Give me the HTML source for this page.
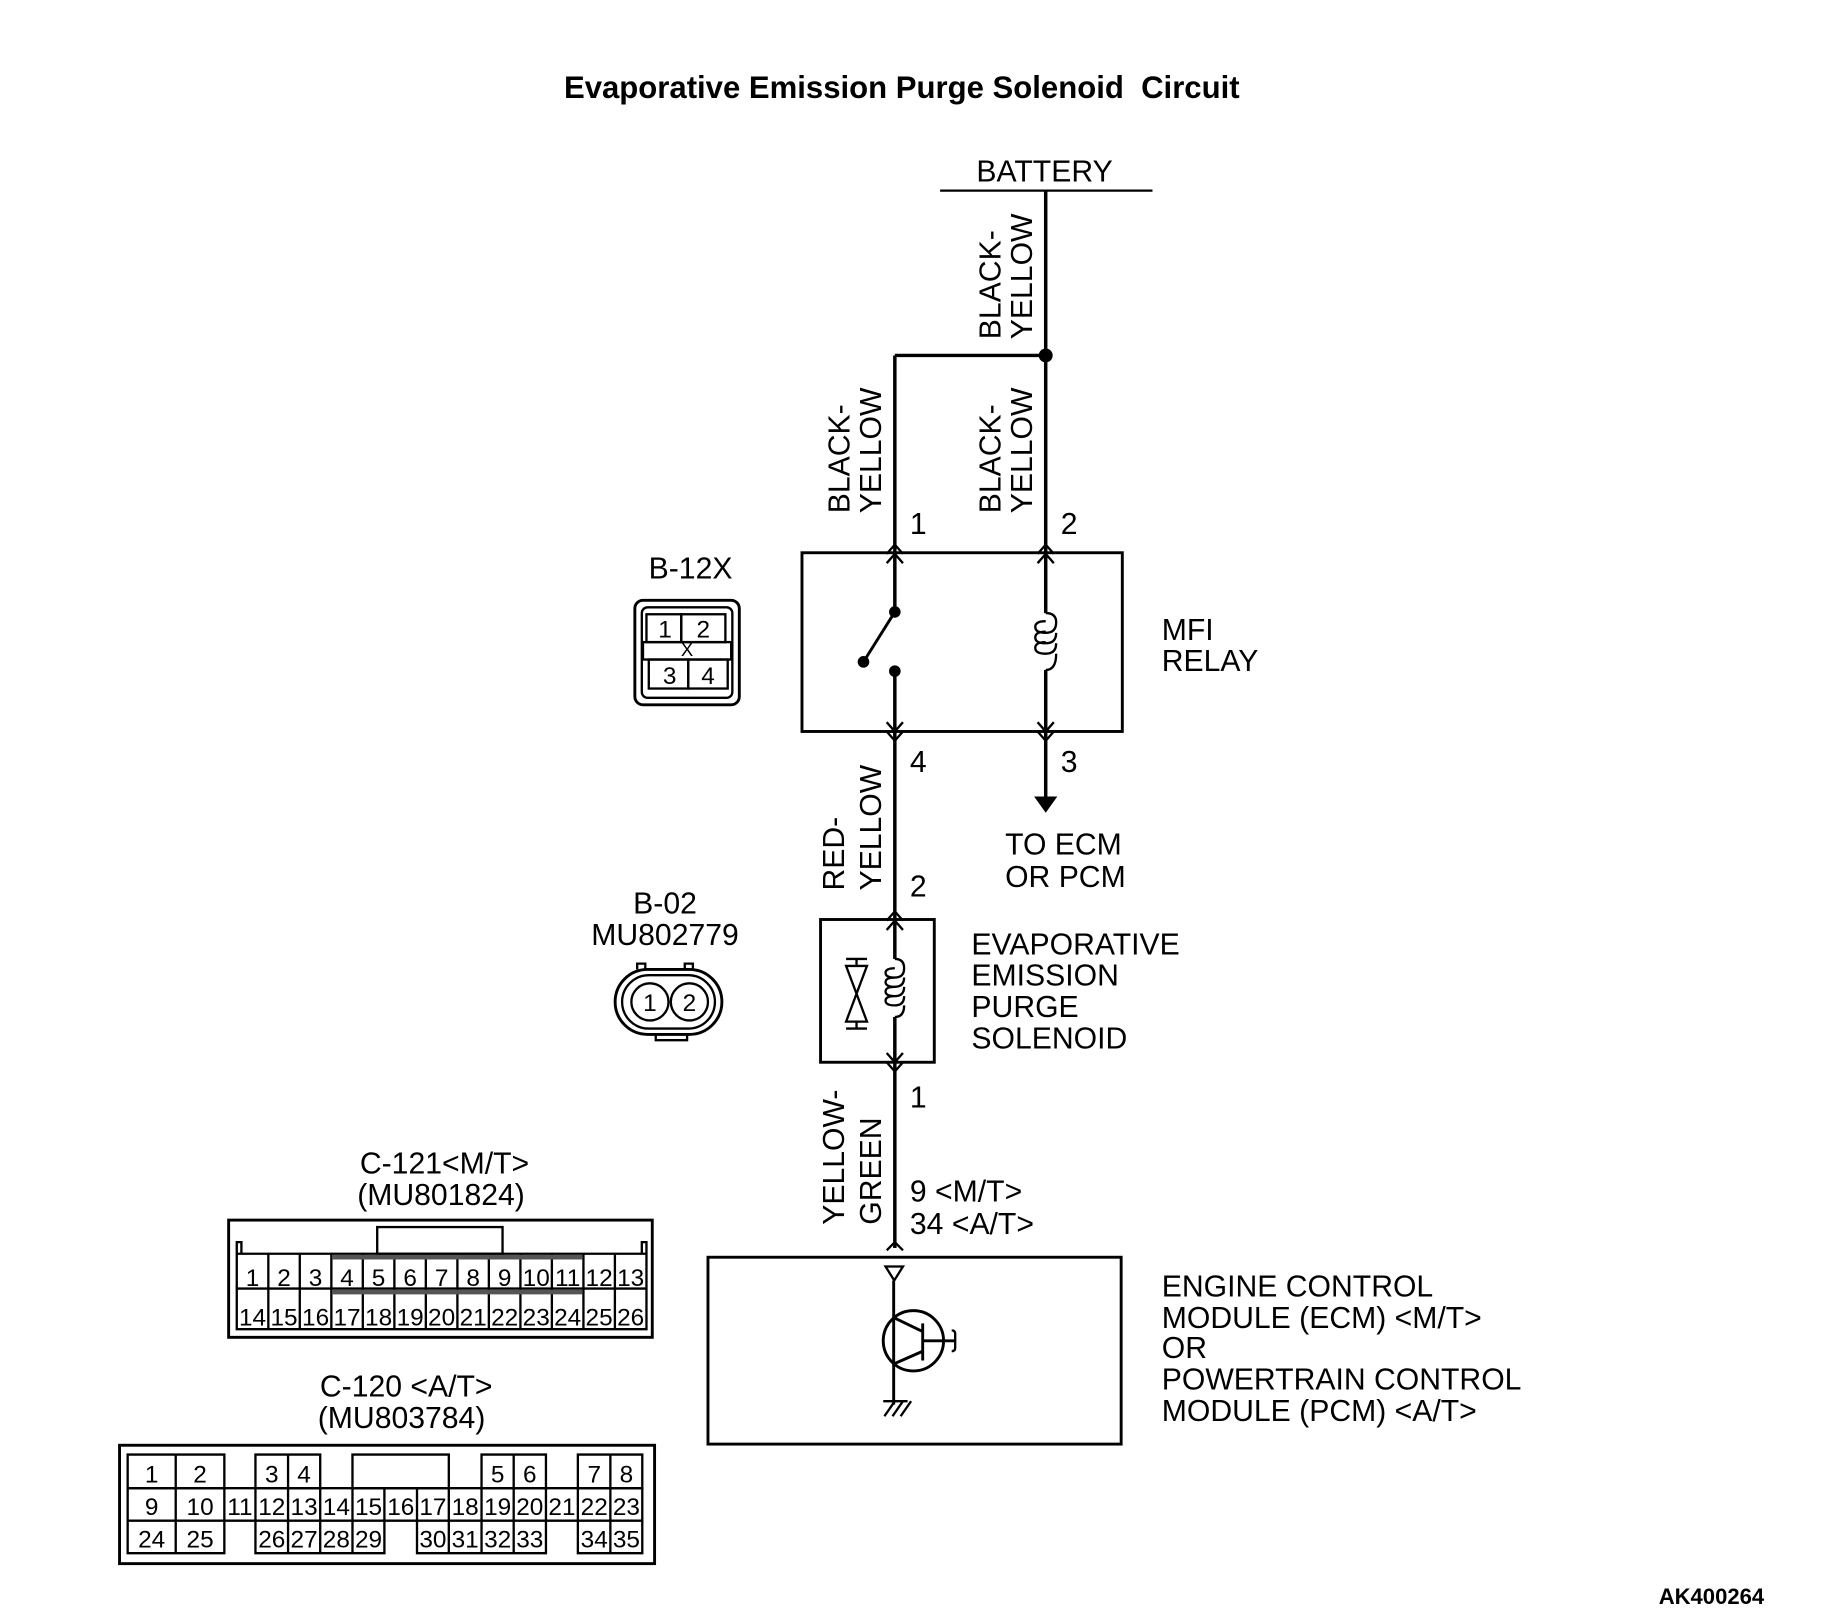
<!DOCTYPE html>
<html><head><meta charset="utf-8"><style>
html,body{margin:0;padding:0;background:#fff}
svg{display:block}
text{font-family:"Liberation Sans",sans-serif;fill:#000}
.l{font-size:26px}
.n{font-size:21px}
</style></head><body>
<svg width="1821" height="1615" viewBox="0 0 1569 1391" xmlns="http://www.w3.org/2000/svg">
<text x="777" y="84" text-anchor="middle" font-size="26.8" font-weight="bold" xml:space="preserve">Evaporative Emission Purge Solenoid  Circuit</text>
<text x="1520" y="1382" text-anchor="end" font-size="19" font-weight="bold">AK400264</text>

<g stroke="#000" fill="none" stroke-width="3">
<line x1="810" y1="164" x2="993" y2="164" stroke-width="2"/>
<line x1="901" y1="164" x2="901" y2="476"/>
<line x1="771" y1="306" x2="901" y2="306"/>
<line x1="771" y1="306" x2="771" y2="476"/>
<rect x="691" y="476" width="276" height="154" stroke-width="2.5"/>
<line x1="771" y1="476" x2="771" y2="527"/>
<line x1="771" y1="527" x2="744" y2="570" stroke-width="2.5"/>
<line x1="771" y1="578" x2="771" y2="630"/>
<line x1="901" y1="476" x2="901" y2="528"/>
<path d="M901 528 q9 0 9 8 M910 536 q0 9 -9 9 q-9 0 -9 -5 q0 -5 9 -5 M910 545 q0 9 -9 9 q-9 0 -9 -5 q0 -5 9 -5 M910 554 q0 9 -9 9 q-9 0 -9 -5 q0 -5 9 -5 M910 563 q0 14 -9 14" stroke-width="2"/>
<line x1="901" y1="577" x2="901" y2="630"/>
<path d="M764 477 l7 -8 l7 8 M764 485 l7 -8 l7 8 M894 477 l7 -8 l7 8 M894 485 l7 -8 l7 8" stroke-width="2"/>
<path d="M764 622 l7 8 l7 -8 M764 630 l7 8 l7 -8 M894 622 l7 8 l7 -8 M894 630 l7 8 l7 -8" stroke-width="2"/>
<line x1="771" y1="630" x2="771" y2="792"/>
<line x1="901" y1="630" x2="901" y2="688"/>
<rect x="707" y="792" width="98" height="123" stroke-width="2.5"/>
<path d="M764 793 l7 -8 l7 8 M764 801 l7 -8 l7 8" stroke-width="2"/>
<line x1="771" y1="792" x2="771" y2="826"/>
<path d="M771 826 q8 0 8 8 M779 834 q0 8 -8 8 q-8 0 -8 -4 q0 -4 8 -4 M779 842 q0 8 -8 8 q-8 0 -8 -4 q0 -4 8 -4 M779 850 q0 8 -8 8 q-8 0 -8 -4 q0 -4 8 -4 M779 858 q0 8 -8 8 q-8 0 -8 -4 q0 -4 8 -4 M779 866 q0 10 -8 10" stroke-width="2"/>
<line x1="771" y1="876" x2="771" y2="1075"/>
<path d="M764 907 l7 8 l7 -8 M764 915 l7 8 l7 -8" stroke-width="2"/>
<path d="M729 826 h18 M738 826 v6 M729 832 h18 L738 856 L729 880 h18 L738 856 Z M729 886 h18 M738 880 v6" stroke-width="2"/>
<rect x="610" y="1083" width="356" height="161" stroke-width="2.5"/>
<path d="M764 1077 l7 -7 l7 7" stroke-width="2"/>
<path d="M763 1091 h15 l-7.5 12 z" stroke-width="2"/>
<line x1="770" y1="1103" x2="770" y2="1210" stroke-width="2.5"/>
<circle cx="787" cy="1155" r="26" stroke-width="2.5"/>
<line x1="770" y1="1135" x2="795" y2="1147" stroke-width="2.5"/>
<line x1="795" y1="1140" x2="795" y2="1172" stroke-width="2.5"/>
<line x1="795" y1="1164" x2="770" y2="1175" stroke-width="2.5"/>
<line x1="795" y1="1155" x2="822" y2="1155" stroke-width="2.5"/>
<path d="M820 1146 q3 0 3 3 v12 q0 3 -3 3" stroke-width="2"/>
<path d="M761 1207 h21 M762 1220 l9 -13 M769 1220 l9 -13 M776 1220 l9 -13" stroke-width="2"/>
<rect x="547" y="517" width="90" height="90" rx="7" stroke-width="2.5"/>
<rect x="553" y="523" width="78" height="78" rx="5" stroke-width="2"/>
<rect x="557" y="529" width="30" height="24" stroke-width="2"/>
<rect x="587" y="529" width="38" height="24" stroke-width="2"/>
<rect x="554" y="553" width="76" height="15" stroke-width="2"/>
<rect x="559" y="568" width="34" height="25" stroke-width="2"/>
<rect x="593" y="568" width="34" height="25" stroke-width="2"/>
<rect x="530" y="835" width="92" height="56" rx="28" stroke-width="2.5"/>
<rect x="536" y="840" width="80" height="46" rx="23" stroke-width="2"/>
<circle cx="560" cy="863" r="16" stroke-width="2"/>
<circle cx="594" cy="863" r="16" stroke-width="2"/>
<path d="M549 835 v-5 h7 v5 M590 835 v-5 h7 v5 M565 891 v5 h27 v-5" stroke-width="2"/>
</g>
<circle cx="901" cy="306" r="6"/>
<circle cx="771" cy="527" r="5"/>
<circle cx="744" cy="570" r="5"/>
<circle cx="771" cy="578" r="5"/>
<path d="M891 686 h20 l-10 14 z"/>

<g class="l">
<text x="900" y="156" text-anchor="middle">BATTERY</text>
<text transform="translate(862,292) rotate(-90)">BLACK-</text>
<text transform="translate(889,292) rotate(-90)">YELLOW</text>
<text transform="translate(732,442) rotate(-90)">BLACK-</text>
<text transform="translate(759,442) rotate(-90)">YELLOW</text>
<text transform="translate(862,442) rotate(-90)">BLACK-</text>
<text transform="translate(889,442) rotate(-90)">YELLOW</text>
<text transform="translate(727,767) rotate(-90)">RED-</text>
<text transform="translate(759,767) rotate(-90)">YELLOW</text>
<text transform="translate(727,1055) rotate(-90)">YELLOW-</text>
<text transform="translate(759,1055) rotate(-90)">GREEN</text>
<text x="784" y="460">1</text><text x="914" y="460">2</text>
<text x="784" y="665">4</text><text x="914" y="665">3</text>
<text x="784" y="772">2</text><text x="784" y="954">1</text>
<text x="784" y="1035">9 &lt;M/T&gt;</text>
<text x="784" y="1063">34 &lt;A/T&gt;</text>
<text x="1001" y="551">MFI</text><text x="1001" y="578">RELAY</text>
<text x="866" y="736">TO ECM</text><text x="866" y="764">OR PCM</text>
<text x="837" y="822">EVAPORATIVE</text><text x="837" y="849">EMISSION</text>
<text x="837" y="876">PURGE</text><text x="837" y="903">SOLENOID</text>
<text x="1001" y="1117">ENGINE CONTROL</text>
<text x="1001" y="1144">MODULE (ECM) &lt;M/T&gt;</text>
<text x="1001" y="1170">OR</text>
<text x="1001" y="1197">POWERTRAIN CONTROL</text>
<text x="1001" y="1224">MODULE (PCM) &lt;A/T&gt;</text>
<text x="595" y="498" text-anchor="middle">B-12X</text>
<text x="573" y="787" text-anchor="middle">B-02</text>
<text x="573" y="814" text-anchor="middle">MU802779</text>
<text x="383" y="1011" text-anchor="middle">C-121&lt;M/T&gt;</text>
<text x="380" y="1038" text-anchor="middle">(MU801824)</text>
<text x="350" y="1203" text-anchor="middle">C-120 &lt;A/T&gt;</text>
<text x="346" y="1230" text-anchor="middle">(MU803784)</text>
</g>
<g class="n" text-anchor="middle">
<text x="573" y="549">1</text><text x="606" y="549">2</text>
<text x="577" y="589">3</text><text x="610" y="589">4</text>
<text x="592" y="565" font-size="16">X</text>
<text x="560" y="871">1</text><text x="594" y="871">2</text>
</g>

<g stroke="#000" fill="none" stroke-width="2">
<rect x="197" y="1051" width="365" height="101" stroke-width="2.5"/>
<rect x="325" y="1057" width="108" height="23"/>
<path d="M204 1080 h353 M204 1080 v65 h353 v-65 M204 1110 h353 M204 1080 v-10 h4 v10 M553 1080 v-10 h4 v10"/>
<path d="M231.2 1080v65M258.3 1080v65M285.5 1080v65M312.6 1080v65M339.8 1080v65M366.9 1080v65M394.1 1080v65M421.2 1080v65M448.4 1080v65M475.5 1080v65M502.7 1080v65M529.8 1080v65"/>
<path d="M286 1083 h216 M286 1113 h216" stroke-width="4" stroke="#555"/>
</g>
<g class="n" text-anchor="middle">
<text x="217.6" y="1108">1</text><text x="244.7" y="1108">2</text><text x="271.9" y="1108">3</text><text x="299" y="1108">4</text><text x="326.2" y="1108">5</text><text x="353.4" y="1108">6</text><text x="380.5" y="1108">7</text><text x="407.7" y="1108">8</text><text x="434.8" y="1108">9</text><text x="462" y="1108">10</text><text x="489.1" y="1108">11</text><text x="516.2" y="1108">12</text><text x="543.4" y="1108">13</text>
<text x="217.6" y="1142">14</text><text x="244.7" y="1142">15</text><text x="271.9" y="1142">16</text><text x="299" y="1142">17</text><text x="326.2" y="1142">18</text><text x="353.4" y="1142">19</text><text x="380.5" y="1142">20</text><text x="407.7" y="1142">21</text><text x="434.8" y="1142">22</text><text x="462" y="1142">23</text><text x="489.1" y="1142">24</text><text x="516.2" y="1142">25</text><text x="543.4" y="1142">26</text>
</g>

<g stroke="#000" fill="none" stroke-width="2">
<rect x="103" y="1245" width="461" height="102" stroke-width="2.5"/>
<path d="M110 1253h83.3v29h-83.3zM151.4 1253v29"/>
<path d="M220.1 1253h55.8v29h-55.8zM248.2 1253v29"/>
<path d="M303.7 1253h83v29h-83z"/>
<path d="M414.9 1253h55.5v29h-55.5zM442.6 1253v29"/>
<path d="M497.9 1253h55.5v29h-55.5zM525.9 1253v29"/>
<path d="M110 1282h443.4v28h-443.4z"/>
<path d="M151.4 1282v28M193.3 1282v28M220.1 1282v28M248.2 1282v28M275.9 1282v28M303.7 1282v28M331.2 1282v28M359.3 1282v28M386.7 1282v28M414.9 1282v28M442.6 1282v28M470.4 1282v28M497.9 1282v28M525.9 1282v28"/>
<path d="M110 1310v28h83.3v-28M151.4 1310v28"/>
<path d="M220.1 1310v28h111.1v-28M248.2 1310v28M275.9 1310v28M303.7 1310v28"/>
<path d="M359.3 1310v28h111.1v-28M386.7 1310v28M414.9 1310v28M442.6 1310v28"/>
<path d="M497.9 1310v28h55.5v-28M525.9 1310v28"/>
</g>
<g class="n" text-anchor="middle">
<text x="130.7" y="1277">1</text><text x="172.4" y="1277">2</text><text x="234.2" y="1277">3</text><text x="262" y="1277">4</text><text x="428.8" y="1277">5</text><text x="456.5" y="1277">6</text><text x="512" y="1277">7</text><text x="539.7" y="1277">8</text>
<text x="130.7" y="1305">9</text><text x="172.4" y="1305">10</text><text x="206.7" y="1305">11</text><text x="234.2" y="1305">12</text><text x="262" y="1305">13</text><text x="289.8" y="1305">14</text><text x="317.5" y="1305">15</text><text x="345.3" y="1305">16</text><text x="373" y="1305">17</text><text x="400.8" y="1305">18</text><text x="428.8" y="1305">19</text><text x="456.5" y="1305">20</text><text x="484.2" y="1305">21</text><text x="512" y="1305">22</text><text x="539.7" y="1305">23</text>
<text x="130.7" y="1333">24</text><text x="172.4" y="1333">25</text><text x="234.2" y="1333">26</text><text x="262" y="1333">27</text><text x="289.8" y="1333">28</text><text x="317.5" y="1333">29</text><text x="373" y="1333">30</text><text x="400.8" y="1333">31</text><text x="428.8" y="1333">32</text><text x="456.5" y="1333">33</text><text x="512" y="1333">34</text><text x="539.7" y="1333">35</text>
</g>
</svg>
</body></html>
